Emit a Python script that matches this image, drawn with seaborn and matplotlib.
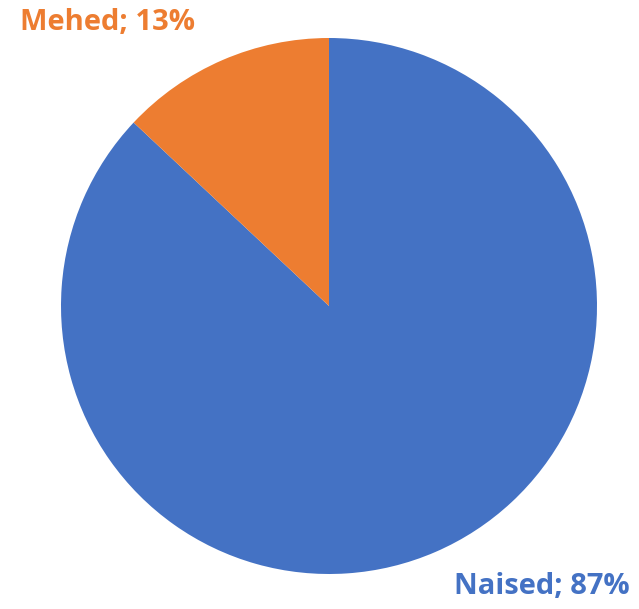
import matplotlib
matplotlib.use("Agg")
import matplotlib.pyplot as plt
import seaborn as sns

# andmed
kategooriad = ["Naised", "Mehed"]
protsendid = [87, 13]
varvid = ["#4472C4", "#ED7D31"]

sns.set_style("white")
plt.rcParams['font.family'] = ['Open Sans', 'DejaVu Sans']

fig = plt.figure(figsize=(6.39, 6.09), dpi=100)
ax = fig.add_axes([61 / 639, (609 - 306 - 268) / 609, 536 / 639, 536 / 609])
ax.pie(protsendid, colors=varvid, startangle=90, counterclock=False,
       wedgeprops=dict(linewidth=0))
ax.set_xlim(-1, 1)
ax.set_ylim(-1, 1)
ax.set_aspect("auto")
ax.axis("off")

# sildid
fig.text(20 / 639, 1 - 23 / 609, f"{kategooriad[1]}; {protsendid[1]}%",
         color=varvid[1], fontsize=21, fontweight="bold", ha="left", va="center")
fig.text(630 / 639, 1 - 586 / 609, f"{kategooriad[0]}; {protsendid[0]}%",
         color=varvid[0], fontsize=21, fontweight="bold", ha="right", va="center")

fig.savefig("out.png", dpi=100, facecolor="white")
